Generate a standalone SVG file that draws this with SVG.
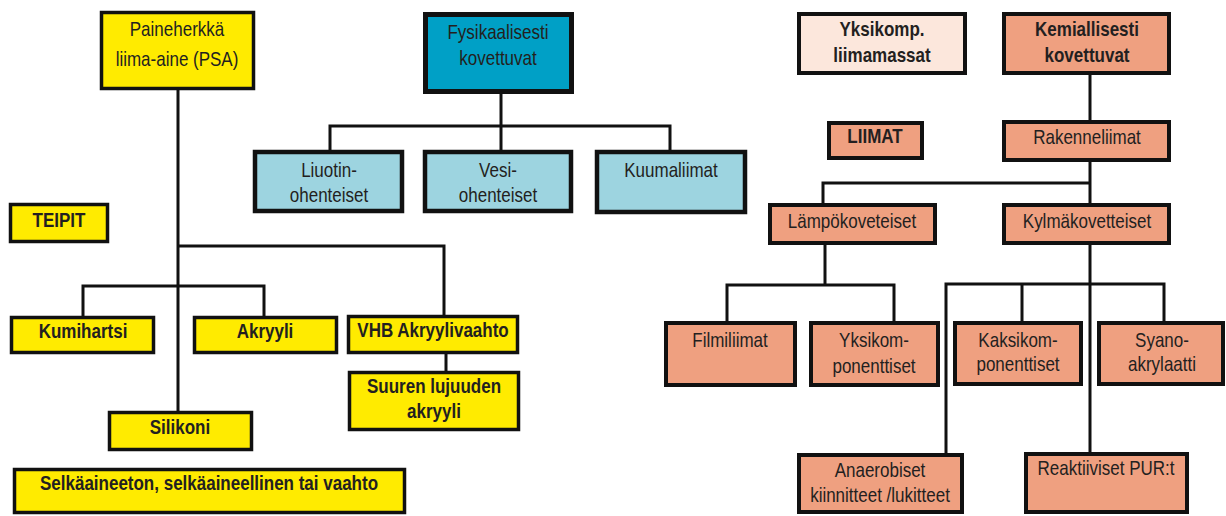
<svg xmlns="http://www.w3.org/2000/svg" width="1226" height="516" viewBox="0 0 1226 516">
<style>
rect{stroke:#111;stroke-width:3.5}
rect.bg{stroke:none;fill:#fff}
.y{fill:#FFEB00}
.lb{fill:#9DD4E0;stroke-width:4.5}
.fb{fill:#00A0C6;stroke-width:5}
.s{fill:#EFA080;stroke-width:4}
.sl{fill:#FCE7DC;stroke-width:4}
text{font-family:"Liberation Sans",Arial,sans-serif;font-size:20px;fill:#231F20;text-anchor:middle}
.b{font-weight:bold}
#connectors path{fill:none;stroke:#111;stroke-width:3}
</style>
<rect class="bg" width="1226" height="516"/>
<g id="connectors">
<path d="M178,90 V411"/>
<path d="M178,246 H444 V315"/>
<path d="M83,316 V286 H264 V316"/>
<path d="M446,354 V371"/>
<path d="M501,94 V150"/>
<path d="M330,150 V126 H670 V150"/>
<path d="M1090,75 V120"/>
<path d="M1090,162 V203"/>
<path d="M823,203 V183 H1090"/>
<path d="M825,245 V285"/>
<path d="M727,321 V285 H894 V321"/>
<path d="M1090,245 V452"/>
<path d="M946,453 V284 H1164 V321"/>
<path d="M1022,284 V321"/>
</g>
<g id="psa"><rect class="y" x="101.5" y="12.5" width="152" height="76"/>
<text transform="translate(177,36) scale(.85,1)">Paineherkkä</text>
<text transform="translate(177,66) scale(.85,1)">liima-aine (PSA)</text></g>
<g id="teipit"><rect class="y" x="10.5" y="204.5" width="97" height="37"/>
<text class="b" transform="translate(59,227) scale(.85,1)">TEIPIT</text></g>
<g id="kumihartsi"><rect class="y" x="11.5" y="317.5" width="142" height="35"/>
<text class="b" transform="translate(83,338) scale(.85,1)">Kumihartsi</text></g>
<g id="akryyli"><rect class="y" x="194.5" y="317.5" width="142" height="35"/>
<text class="b" transform="translate(265,338) scale(.85,1)">Akryyli</text></g>
<g id="vhb"><rect class="y" x="348.5" y="316.5" width="169" height="36"/>
<text class="b" transform="translate(433,337) scale(.85,1)">VHB Akryylivaahto</text></g>
<g id="suuren"><rect class="y" x="349.5" y="372.5" width="169" height="57"/>
<text class="b" transform="translate(434,393) scale(.85,1)">Suuren lujuuden</text>
<text class="b" transform="translate(434,418) scale(.85,1)">akryyli</text></g>
<g id="silikoni"><rect class="y" x="109.5" y="412.5" width="142" height="37"/>
<text class="b" transform="translate(180,434) scale(.85,1)">Silikoni</text></g>
<g id="selka"><rect class="y" x="14.5" y="469.5" width="390" height="43"/>
<text class="b" transform="translate(209,490) scale(.85,1)">Selkäaineeton, selkäaineellinen tai vaahto</text></g>
<g id="fysikaalisesti"><rect class="fb" x="425.5" y="14.5" width="146" height="77"/>
<text transform="translate(498,39) scale(.85,1)">Fysikaalisesti</text>
<text transform="translate(498,65) scale(.85,1)">kovettuvat</text></g>
<g id="liuotin"><rect class="lb" x="255" y="152" width="147" height="59"/>
<text transform="translate(329,177) scale(.85,1)">Liuotin-</text>
<text transform="translate(329,202) scale(.85,1)">ohenteiset</text></g>
<g id="vesi"><rect class="lb" x="425" y="152" width="146" height="59"/>
<text transform="translate(498,177) scale(.85,1)">Vesi-</text>
<text transform="translate(498,202) scale(.85,1)">ohenteiset</text></g>
<g id="kuumaliimat"><rect class="lb" x="597" y="152" width="148" height="60"/>
<text transform="translate(671,177) scale(.85,1)">Kuumaliimat</text></g>
<g id="yksikomp-liimamassat"><rect class="sl" x="799" y="14" width="166" height="59"/>
<text class="b" transform="translate(882,36) scale(.85,1)">Yksikomp.</text>
<text class="b" transform="translate(882,62) scale(.85,1)">liimamassat</text></g>
<g id="kemiallisesti"><rect class="s" x="1004" y="14" width="165" height="59"/>
<text class="b" transform="translate(1087,36) scale(.85,1)">Kemiallisesti</text>
<text class="b" transform="translate(1087,62) scale(.85,1)">kovettuvat</text></g>
<g id="liimat"><rect class="s" x="829" y="123" width="93" height="35"/>
<text class="b" transform="translate(875,143) scale(.85,1)">LIIMAT</text></g>
<g id="rakenneliimat"><rect class="s" x="1004" y="122" width="165" height="38"/>
<text transform="translate(1087,144) scale(.85,1)">Rakenneliimat</text></g>
<g id="lampokoveteiset"><rect class="s" x="770" y="205" width="165" height="38"/>
<text transform="translate(852,228) scale(.85,1)">Lämpökoveteiset</text></g>
<g id="kylmakovetteiset"><rect class="s" x="1004" y="205" width="165" height="38"/>
<text transform="translate(1087,228) scale(.85,1)">Kylmäkovetteiset</text></g>
<g id="filmiliimat"><rect class="s" x="666" y="323" width="129" height="62"/>
<text transform="translate(730,347) scale(.85,1)">Filmiliimat</text></g>
<g id="yksikomponenttiset"><rect class="s" x="811" y="323" width="127" height="62"/>
<text transform="translate(874,347) scale(.85,1)">Yksikom-</text>
<text transform="translate(874,373) scale(.85,1)">ponenttiset</text></g>
<g id="kaksikomponenttiset"><rect class="s" x="955" y="323" width="126" height="61"/>
<text transform="translate(1018,347) scale(.85,1)">Kaksikom-</text>
<text transform="translate(1018,371) scale(.85,1)">ponenttiset</text></g>
<g id="syanoakrylaatti"><rect class="s" x="1099" y="323" width="124" height="61"/>
<text transform="translate(1162,347) scale(.85,1)">Syano-</text>
<text transform="translate(1162,371) scale(.85,1)">akrylaatti</text></g>
<g id="anaerobiset"><rect class="s" x="799" y="455" width="163" height="57"/>
<text transform="translate(880,477) scale(.85,1)">Anaerobiset</text>
<text transform="translate(880,502) scale(.85,1)">kiinnitteet /lukitteet</text></g>
<g id="reaktiiviset"><rect class="s" x="1026" y="454" width="161" height="58"/>
<text transform="translate(1106,475) scale(.85,1)">Reaktiiviset PUR:t</text></g>
</svg>
